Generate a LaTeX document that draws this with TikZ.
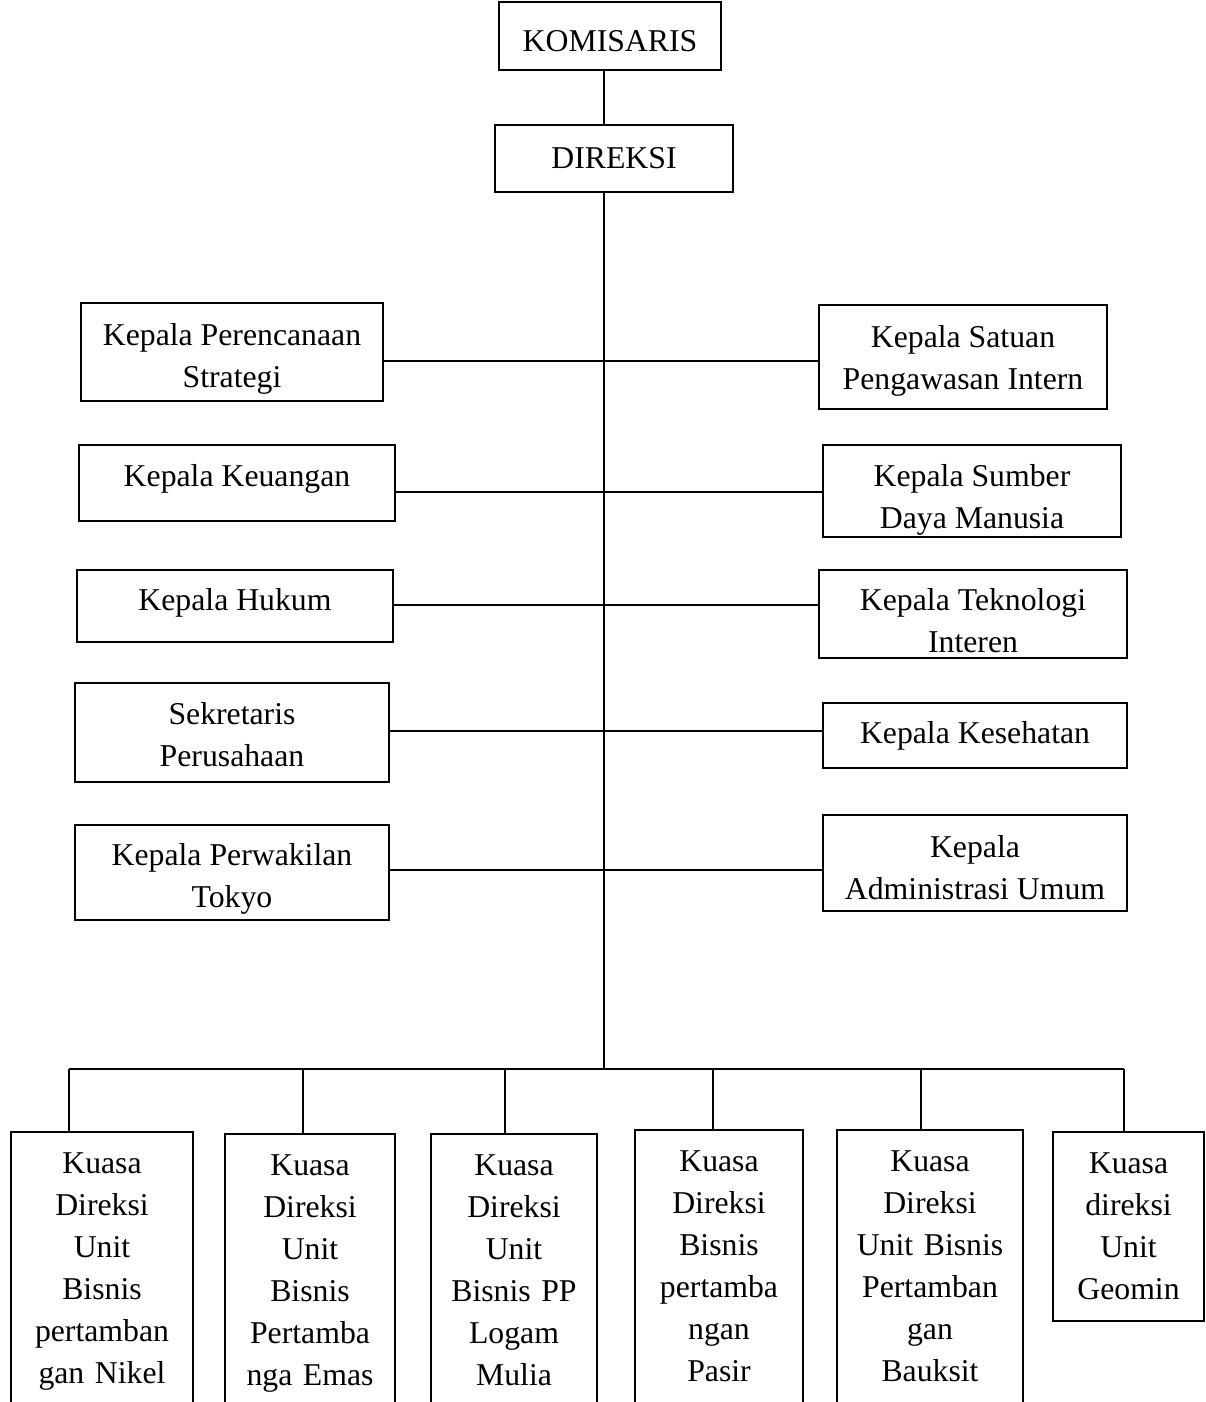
\documentclass[tikz,border=0pt]{standalone}
\usepackage{fontspec}
\setmainfont{Liberation Serif}
\usepackage{tikz}
\usetikzlibrary{calc}

\newcommand{\upx}{0.378pt}
\tikzset{
    garis/.style={black, line width=0.8pt},
    kotak/.style={draw=black, line width=0.8pt, align=center, inner sep=0pt,
                  font=\fontsize{12}{15.9}\selectfont},
    kuasa/.style={kotak, anchor=north, inner xsep=0pt, inner ysep=7.8pt}
}

\begin{document}
\begin{tikzpicture}[x=\upx, y=-\upx]
                    \useasboundingbox (0,0) rectangle (1205,1402);
                    \clip (0,0) rectangle (1205,1402);

                    % puncak
                    \node[kotak, minimum width=222*\upx, minimum height=68*\upx, text height=11.7pt] (komisaris) at (610,36) {KOMISARIS};
                    \node[kotak, minimum width=238*\upx, minimum height=67*\upx] (direksi) at (614,158.5) {DIREKSI};
                    \coordinate (pusat) at (604,192);
                    \coordinate (bus) at (604,1069);

                    % kiri
                    \node[kotak, minimum width=302*\upx, minimum height=98*\upx, text height=29.4pt] (perencanaan) at (232,352) {Kepala Perencanaan\\Strategi};
                    \node[kotak, minimum width=316*\upx, minimum height=76*\upx, text depth=5.6pt] (keuangan) at (237,483) {Kepala Keuangan};
                    \node[kotak, minimum width=316*\upx, minimum height=72*\upx, text depth=4.9pt] (hukum) at (235,606) {Kepala Hukum};
                    \node[kotak, minimum width=314*\upx, minimum height=99*\upx, text height=25.6pt] (sekretaris) at (232,732.5) {Sekretaris\\Perusahaan};
                    \node[kotak, minimum width=314*\upx, minimum height=95*\upx, text height=29.4pt] (tokyo) at (232,872.5) {Kepala Perwakilan\\Tokyo};

                    % kanan
                    \node[kotak, minimum width=288*\upx, minimum height=104*\upx, text height=27.1pt] (spi) at (963,357) {Kepala Satuan\\Pengawasan Intern};
                    \node[kotak, minimum width=298*\upx, minimum height=92*\upx, text height=30.9pt] (sdm) at (972,491) {Kepala Sumber\\Daya Manusia};
                    \node[kotak, minimum width=308*\upx, minimum height=88*\upx, text height=29.4pt] (teknologi) at (973,614) {Kepala Teknologi\\Interen};
                    \node[kotak, minimum width=304*\upx, minimum height=65*\upx] (kesehatan) at (975,735.5) {Kepala Kesehatan};
                    \node[kotak, minimum width=304*\upx, minimum height=96*\upx, text height=27.9pt] (administrasi) at (975,863) {Kepala\\Administrasi Umum};

                    % bawah
                    \node[kuasa, text width=182*\upx, text depth=86pt] (nikel) at (102,1131) {Kuasa\\Direksi\\Unit\\Bisnis\\pertamban\\gan Nikel};
                    \node[kuasa, text width=170*\upx, text depth=86pt] (emas) at (310,1133) {Kuasa\\Direksi\\Unit\\Bisnis\\Pertamba\\nga Emas};
                    \node[kuasa, text width=166*\upx, text depth=86pt] (logam) at (514,1133) {Kuasa\\Direksi\\Unit\\Bisnis PP\\Logam\\Mulia};
                    \node[kuasa, text width=168*\upx, text depth=86pt] (pasir) at (719,1129) {Kuasa\\Direksi\\Bisnis\\pertamba\\ngan\\Pasir};
                    \node[kuasa, text width=186*\upx, text depth=86pt] (bauksit) at (930,1129) {Kuasa\\Direksi\\Unit Bisnis\\Pertamban\\gan\\Bauksit};
                    \node[kuasa, text width=151*\upx] (geomin) at (1128.5,1131) {Kuasa\\direksi\\Unit\\Geomin};

                    % garis utama
                    \draw[garis] (komisaris.south -| pusat) -- (direksi.north -| pusat);
                    \draw[garis] (direksi.south -| pusat) -- (bus);

                    % cabang kiri-kanan
                    \coordinate (j1) at (604,361);
                    \coordinate (j2) at (604,492);
                    \coordinate (j3) at (604,605);
                    \coordinate (j4) at (604,731);
                    \coordinate (j5) at (604,870);
                    \draw[garis] (perencanaan.east |- j1) -- (spi.west |- j1);
                    \draw[garis] (keuangan.east |- j2) -- (sdm.west |- j2);
                    \draw[garis] (hukum.east |- j3) -- (teknologi.west |- j3);
                    \draw[garis] (sekretaris.east |- j4) -- (kesehatan.west |- j4);
                    \draw[garis] (tokyo.east |- j5) -- (administrasi.west |- j5);

                    % cabang bawah
                    \coordinate (d1) at (69,1069);
                    \coordinate (d2) at (303,1069);
                    \coordinate (d3) at (505,1069);
                    \coordinate (d4) at (713,1069);
                    \coordinate (d5) at (921,1069);
                    \coordinate (d6) at (1124,1069);
                    \draw[garis] (d1) -- (d6);
                    \draw[garis] (d1) -- (d1 |- nikel.north);
                    \draw[garis] (d2) -- (d2 |- emas.north);
                    \draw[garis] (d3) -- (d3 |- logam.north);
                    \draw[garis] (d4) -- (d4 |- pasir.north);
                    \draw[garis] (d5) -- (d5 |- bauksit.north);
                    \draw[garis] (d6) -- (d6 |- geomin.north);
\end{tikzpicture}
\end{document}
